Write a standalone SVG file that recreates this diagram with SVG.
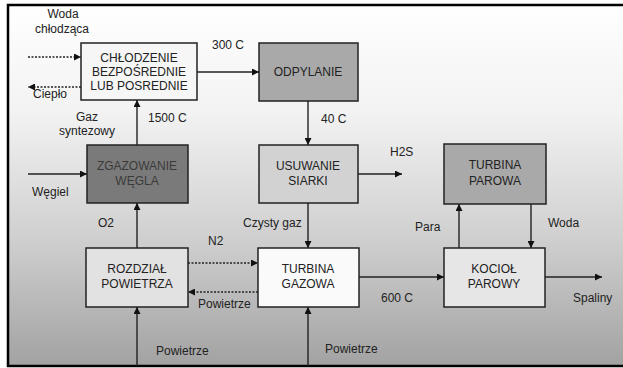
<svg xmlns="http://www.w3.org/2000/svg" width="623" height="368" viewBox="0 0 623 368">
<defs>
<linearGradient id="bg" x1="0" y1="0" x2="0" y2="1">
<stop offset="0" stop-color="#ffffff"/>
<stop offset="0.3" stop-color="#f2f2f2"/>
<stop offset="0.65" stop-color="#cfcfcf"/>
<stop offset="1" stop-color="#a2a2a2"/>
</linearGradient>
<marker id="ah" viewBox="0 0 10 10" refX="10" refY="5" markerWidth="9" markerHeight="7" markerUnits="userSpaceOnUse" orient="auto">
<path d="M0,0 L10,5 L0,10 z" fill="#111"/>
</marker>
</defs>
<style>
.box{stroke:#222;stroke-width:1.5}
.t{font-family:"Liberation Sans",Arial,sans-serif;font-size:12px;fill:#222}
.c{text-anchor:middle}
.ln{stroke:#222;stroke-width:1.4;fill:none;marker-end:url(#ah)}
.dt{stroke:#222;stroke-width:1.6;fill:none;stroke-dasharray:2 1.5;marker-end:url(#ah)}
</style>
<rect x="0" y="0" width="623" height="368" fill="#ffffff"/>
<rect x="8" y="5" width="620" height="361" fill="url(#bg)" stroke="#000" stroke-width="2.5"/>

<g id="connectors">
<line class="dt" x1="28" y1="57" x2="81" y2="57"/>
<line class="dt" x1="81" y1="87" x2="28" y2="87"/>
<line class="ln" x1="197" y1="72" x2="259" y2="72"/>
<line class="ln" x1="137" y1="145" x2="137" y2="100"/>
<line class="ln" x1="308" y1="101" x2="308" y2="145"/>
<line class="ln" x1="358" y1="174" x2="402" y2="174"/>
<line class="ln" x1="28" y1="174" x2="87" y2="174"/>
<line class="ln" x1="137" y1="248" x2="137" y2="203"/>
<line class="ln" x1="308" y1="203" x2="308" y2="248"/>
<line class="dt" x1="188" y1="263" x2="258" y2="263"/>
<line class="dt" x1="258" y1="292" x2="188" y2="292"/>
<line class="ln" x1="137" y1="366" x2="137" y2="307"/>
<line class="ln" x1="308" y1="366" x2="308" y2="307"/>
<line class="ln" x1="359" y1="277" x2="444" y2="277"/>
<line class="ln" x1="459" y1="248" x2="459" y2="204"/>
<line class="ln" x1="531" y1="204" x2="531" y2="248"/>
<line class="ln" x1="545" y1="277" x2="602" y2="277"/>
</g>

<g id="labels">
<text class="t c" x="63" y="18">Woda</text>
<text class="t c" x="62" y="33">chłodząca</text>
<text class="t" x="33" y="98">Ciepło</text>
<text class="t" x="212" y="49">300 C</text>
<text class="t c" x="87" y="121">Gaz</text>
<text class="t c" x="87" y="135">syntezowy</text>
<text class="t" x="148" y="122">1500 C</text>
<text class="t" x="321" y="123">40 C</text>
<text class="t" x="32" y="196">Węgiel</text>
<text class="t" x="98" y="227">O2</text>
<text class="t" x="390" y="156">H2S</text>
<text class="t" x="243" y="227">Czysty gaz</text>
<text class="t" x="208" y="245">N2</text>
<text class="t" x="198" y="308">Powietrze</text>
<text class="t" x="156" y="355">Powietrze</text>
<text class="t" x="325" y="353">Powietrze</text>
<text class="t" x="381" y="302">600 C</text>
<text class="t" x="415" y="231">Para</text>
<text class="t" x="548" y="227">Woda</text>
<text class="t" x="573" y="302">Spaliny</text>
</g>

<g id="chlodzenie">
<rect class="box" x="81" y="43" width="116" height="57" fill="#f6f6f6"/>
<text class="t c" x="139" y="62">CHŁODZENIE</text>
<text class="t c" x="139" y="76">BEZPOŚREDNIE</text>
<text class="t c" x="139" y="90">LUB POSREDNIE</text>
</g>
<g id="odpylanie">
<rect class="box" x="259" y="43" width="99" height="58" fill="#a9a9a9"/>
<text class="t c" x="308" y="76">ODPYLANIE</text>
</g>
<g id="zgazowanie">
<rect class="box" x="87" y="145" width="101" height="58" fill="#7a7a7a"/>
<text class="t c" x="137" y="170" style="fill:#3a3a3a">ZGAZOWANIE</text>
<text class="t c" x="137" y="185" style="fill:#3a3a3a">WĘGLA</text>
</g>
<g id="usuwanie">
<rect class="box" x="259" y="145" width="99" height="58" fill="#d2d2d2"/>
<text class="t c" x="308" y="170">USUWANIE</text>
<text class="t c" x="308" y="185">SIARKI</text>
</g>
<g id="turbina_parowa">
<rect class="box" x="444" y="144" width="102" height="60" fill="#a9a9a9"/>
<text class="t c" x="495" y="169">TURBINA</text>
<text class="t c" x="495" y="185">PAROWA</text>
</g>
<g id="rozdzial">
<rect class="box" x="86" y="248" width="102" height="59" fill="#e2e2e2"/>
<text class="t c" x="137" y="273">ROZDZIAŁ</text>
<text class="t c" x="137" y="288">POWIETRZA</text>
</g>
<g id="turbina_gazowa">
<rect class="box" x="258" y="248" width="101" height="59" fill="#fafafa"/>
<text class="t c" x="308" y="273">TURBINA</text>
<text class="t c" x="308" y="288">GAZOWA</text>
</g>
<g id="kociol">
<rect class="box" x="444" y="248" width="101" height="59" fill="#e6e6e6"/>
<text class="t c" x="494" y="273">KOCIOŁ</text>
<text class="t c" x="494" y="288">PAROWY</text>
</g>
</svg>
